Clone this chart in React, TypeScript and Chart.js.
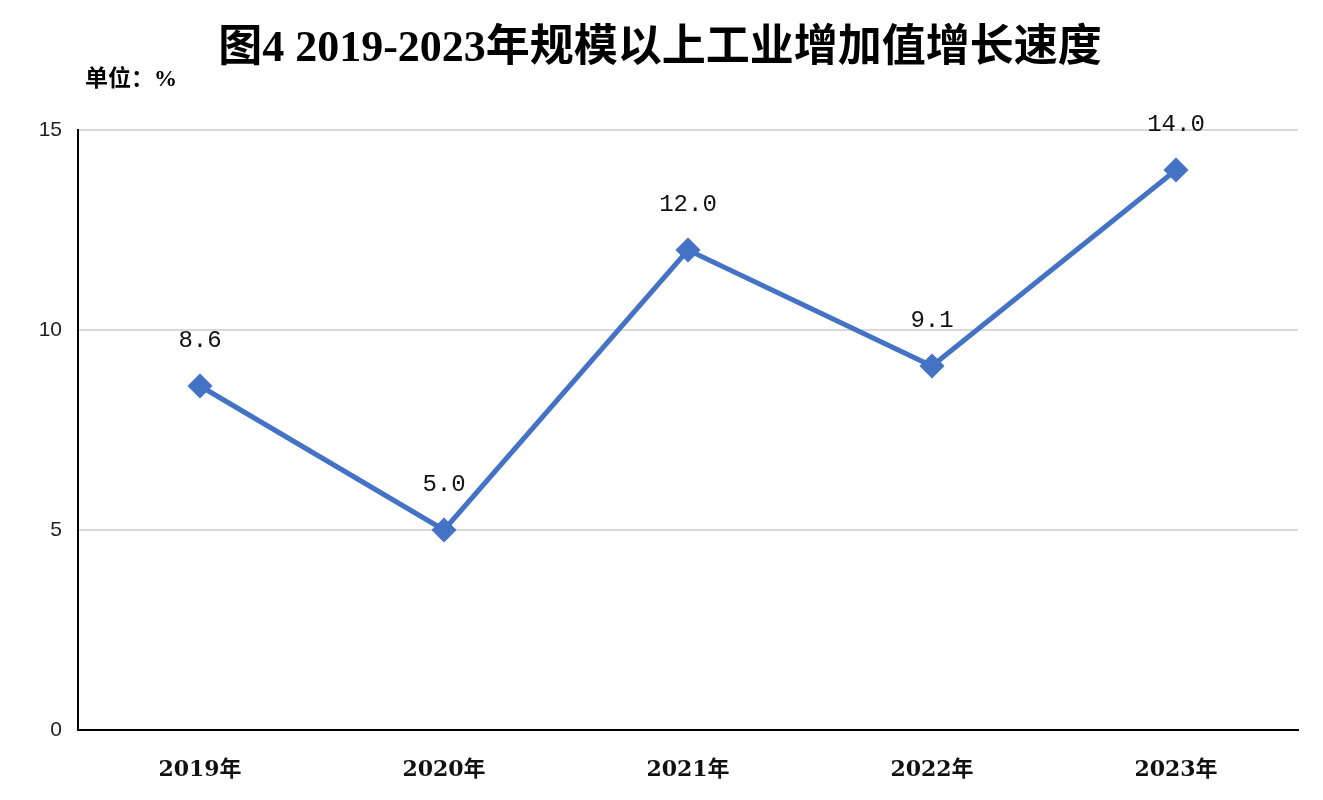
import React, { useEffect, useRef } from "react";
import { Chart, registerables } from "chart.js";

Chart.register(...registerables);

const categories = ["2019年", "2020年", "2021年", "2022年", "2023年"];
const values = [8.6, 5.0, 12.0, 9.1, 14.0];
const valueLabels = ["8.6", "5.0", "12.0", "9.1", "14.0"];
const yTicks = [0, 5, 10, 15];
const titleText = "图4 2019-2023年规模以上工业增加值增长速度";
const unitText = "单位：%";

const W = 1323;
const H = 800;

export default function App() {
  const ref = useRef<HTMLCanvasElement | null>(null);

  useEffect(() => {
    document.body.style.margin = "0";
    const canvas = ref.current;
    if (!canvas) return;

    const overlay = {
      id: "overlay",
      afterDatasetsDraw(chart: any) {
        const ctx = chart.ctx;
        ctx.save();
        // title
        ctx.fillStyle = "#000";
        ctx.textAlign = "center";
        ctx.textBaseline = "middle";
        ctx.font = 'bold 44px "Liberation Serif", "Noto Sans CJK SC", serif';
        ctx.fillText(titleText, 660, 50);
        // unit
        ctx.textAlign = "left";
        ctx.font = 'bold 23px "Liberation Serif", "Noto Sans CJK SC", serif';
        ctx.fillText(unitText, 85, 80);
        // value labels
        const meta = chart.getDatasetMeta(0);
        ctx.textAlign = "center";
        ctx.font = '24px "Liberation Mono", monospace';
        ctx.fillStyle = "#111";
        meta.data.forEach((pt: any, i: number) => {
          ctx.fillText(valueLabels[i], pt.x, pt.y - 45);
        });
        ctx.restore();
      },
    };

    const chart = new Chart(canvas, {
      type: "line",
      data: {
        labels: categories,
        datasets: [
          {
            data: values,
            borderColor: "#4472C4",
            backgroundColor: "#4472C4",
            borderWidth: 5,
            pointStyle: "rectRot",
            pointRadius: 9,
            pointHoverRadius: 9,
            pointBackgroundColor: "#4472C4",
            pointBorderColor: "#4472C4",
            tension: 0,
          },
        ],
      },
      options: {
        animation: false,
        responsive: false,
        maintainAspectRatio: false,
        layout: { padding: { top: 130, right: 25, bottom: 0, left: 0 } },
        plugins: {
          legend: { display: false },
          title: { display: false },
          tooltip: { enabled: false },
        },
        scales: {
          x: {
            offset: true,
            grid: { display: false, drawTicks: false },
            border: { display: true, color: "#000", width: 2 },
            ticks: {
              padding: 27,
              color: "#111",
              font: { family: '"DejaVu Serif", "Noto Sans CJK SC", serif', size: 22, weight: "bold" },
            },
            afterFit: (s: any) => { s.height = 70; },
          },
          y: {
            min: 0,
            max: 15,
            afterBuildTicks: (s: any) => { s.ticks = yTicks.map((v) => ({ value: v })); },
            grid: { color: "#d9d9d9", lineWidth: 2, drawTicks: false },
            border: { display: true, color: "#000", width: 2 },
            ticks: {
              padding: 16,
              color: "#222",
              font: { family: '"Liberation Sans", Arial, sans-serif', size: 21 },
            },
            afterFit: (s: any) => { s.width = 78; },
          },
        },
      },
      plugins: [overlay],
    });

    return () => chart.destroy();
  }, []);

  return (
    <div style={{ position: "absolute", left: 0, top: 0, width: W, height: H, background: "#fff" }}>
      <canvas ref={ref} width={W} height={H} style={{ width: W, height: H, display: "block" }} />
    </div>
  );
}
